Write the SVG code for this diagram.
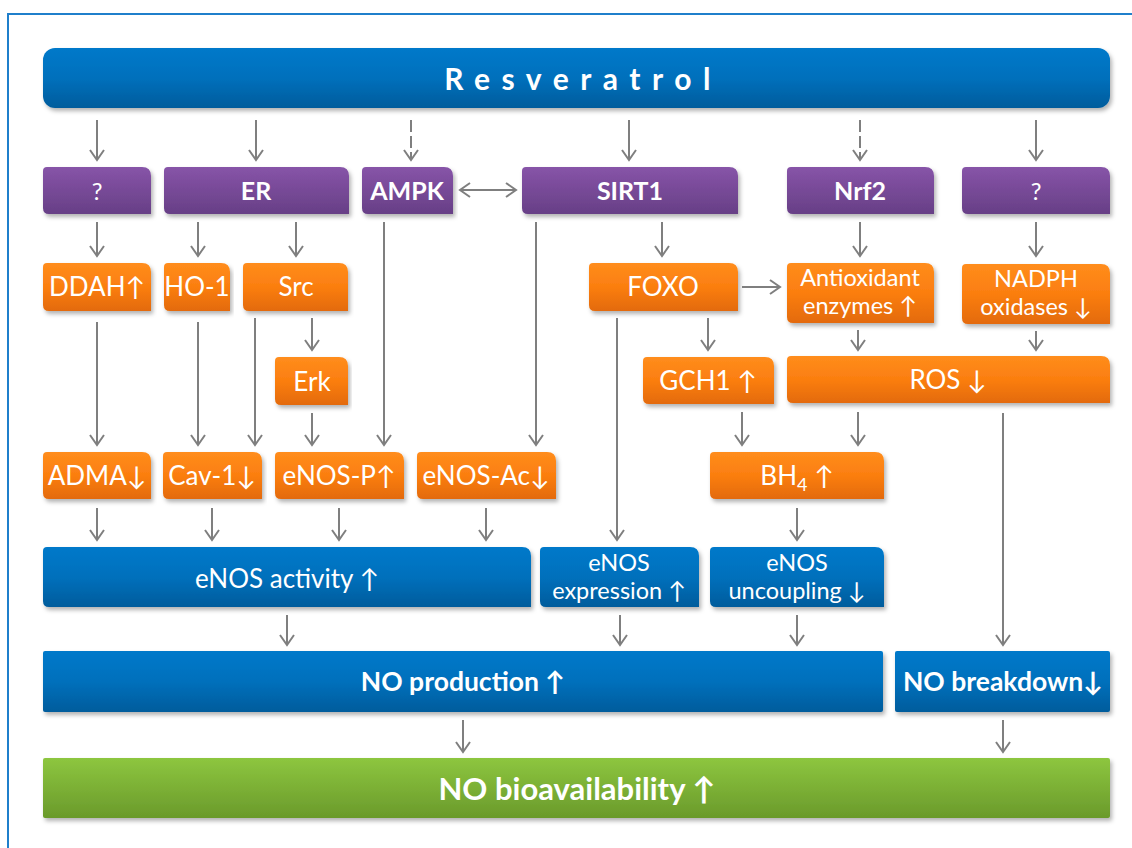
<svg xmlns="http://www.w3.org/2000/svg" width="1132" height="848" viewBox="0 0 1132 848">
<defs>
<linearGradient id="gBlue" x1="0" y1="0" x2="0" y2="1"><stop offset="0" stop-color="#0079CA"/><stop offset="0.5" stop-color="#0070BC"/><stop offset="1" stop-color="#005C9C"/></linearGradient>
<linearGradient id="gPurple" x1="0" y1="0" x2="0" y2="1"><stop offset="0" stop-color="#8754A8"/><stop offset="1" stop-color="#673F86"/></linearGradient>
<linearGradient id="gOrange" x1="0" y1="0" x2="0" y2="1"><stop offset="0" stop-color="#FF8D1C"/><stop offset="0.5" stop-color="#FB7E10"/><stop offset="1" stop-color="#E36A08"/></linearGradient>
<linearGradient id="gGreen" x1="0" y1="0" x2="0" y2="1"><stop offset="0" stop-color="#8DC63F"/><stop offset="1" stop-color="#6A9A2B"/></linearGradient>
<filter id="sh" x="-5%" y="-20%" width="110%" height="150%"><feDropShadow dx="2" dy="3" stdDeviation="2" flood-color="#000" flood-opacity="0.3"/></filter>
<marker id="ah" markerUnits="userSpaceOnUse" viewBox="-12 -10 14 20" refX="0" refY="0" markerWidth="14" markerHeight="20" orient="auto-start-reverse"><path d="M-10,-7 L0,0 L-10,7" fill="none" stroke="#7F7F7F" stroke-width="2"/></marker>
</defs>
<style>
.p{fill:url(#gPurple);filter:url(#sh)}
.o{fill:url(#gOrange);filter:url(#sh)}
.b{fill:url(#gBlue);filter:url(#sh)}
.g{fill:url(#gGreen);filter:url(#sh)}
text{font-family:Lato,"Open Sans","DejaVu Sans",sans-serif;fill:#fff;text-anchor:middle}
.tb{font-weight:bold;font-size:25px}
.tr{font-size:26px}
.t2{font-size:23.5px}
.tn{font-weight:bold;font-size:26.5px}
.c line{stroke:#7F7F7F;stroke-width:2;marker-end:url(#ah)}
.c .d{stroke-dasharray:12 4}
</style>
<rect x="8" y="14" width="1130" height="840" fill="#fff" stroke="#1F7FCB" stroke-width="2"/>

<g id="resveratrol"><rect class="b" x="43" y="48" width="1067" height="60" rx="12"/><text x="583" y="90" style="font-weight:bold;font-size:30px;letter-spacing:11.5px">Resveratrol</text></g>

<g id="q1"><path class="p" d="M47,167 H142 Q151,167 151,176 V214 H49 Q43,214 43,208 V171 Q43,167 47,167 Z"/><text class="tr" x="97" y="200" style="font-size:24px">?</text></g>
<g id="er"><path class="p" d="M168,167 H340 Q349,167 349,176 V214 H170 Q164,214 164,208 V171 Q164,167 168,167 Z"/><text class="tb" x="256" y="200">ER</text></g>
<g id="ampk"><path class="p" d="M366,167 H444 Q453,167 453,176 V214 H368 Q362,214 362,208 V171 Q362,167 366,167 Z"/><text class="tb" x="407" y="200">AMPK</text></g>
<g id="sirt1"><path class="p" d="M526,167 H729 Q738,167 738,176 V214 H528 Q522,214 522,208 V171 Q522,167 526,167 Z"/><text class="tb" x="630" y="200">SIRT1</text></g>
<g id="nrf2"><path class="p" d="M791,167 H925 Q934,167 934,176 V214 H793 Q787,214 787,208 V171 Q787,167 791,167 Z"/><text class="tb" x="860" y="200">Nrf2</text></g>
<g id="q2"><path class="p" d="M966,167 H1101 Q1110,167 1110,176 V214 H968 Q962,214 962,208 V171 Q962,167 966,167 Z"/><text class="tr" x="1036" y="200" style="font-size:24px">?</text></g>

<g id="ddah"><path class="o" d="M47,263 H142 Q151,263 151,272 V311 H49 Q43,311 43,305 V267 Q43,263 47,263 Z"/><text class="tr" x="97" y="296">DDAH↑</text></g>
<g id="ho1"><path class="o" d="M168,263 H221 Q230,263 230,272 V311 H170 Q164,311 164,305 V267 Q164,263 168,263 Z"/><text class="tr" x="197" y="296">HO-1</text></g>
<g id="src"><path class="o" d="M247,263 H339 Q348,263 348,272 V311 H249 Q243,311 243,305 V267 Q243,263 247,263 Z"/><text class="tr" x="296" y="296">Src</text></g>
<g id="foxo"><path class="o" d="M593,263 H729 Q738,263 738,272 V311 H595 Q589,311 589,305 V267 Q589,263 593,263 Z"/><text class="tr" x="663" y="296">FOXO</text></g>
<g id="antiox"><path class="o" d="M791,263 H925 Q934,263 934,272 V323 H793 Q787,323 787,317 V267 Q787,263 791,263 Z"/><text class="t2" x="860" y="286">Antioxidant</text><text class="t2" x="860" y="314">enzymes ↑</text></g>
<g id="nadph"><path class="o" d="M966,264 H1101 Q1110,264 1110,273 V324 H968 Q962,324 962,318 V268 Q962,264 966,264 Z"/><text class="t2" x="1036" y="287">NADPH</text><text class="t2" x="1036" y="315">oxidases ↓</text></g>
<g id="erk"><path class="o" d="M279,357 H339 Q348,357 348,366 V405 H281 Q275,405 275,399 V361 Q275,357 279,357 Z"/><text class="tr" x="312" y="391">Erk</text></g>
<g id="gch1"><path class="o" d="M647,357 H765 Q774,357 774,366 V404 H649 Q643,404 643,398 V361 Q643,357 647,357 Z"/><text class="tr" x="708" y="390">GCH1 ↑</text></g>
<g id="ros"><path class="o" d="M791,356 H1101 Q1110,356 1110,365 V403 H793 Q787,403 787,397 V360 Q787,356 791,356 Z"/><text class="tr" x="948" y="389">ROS ↓</text></g>
<g id="adma"><path class="o" d="M47,452 H142 Q151,452 151,461 V499 H49 Q43,499 43,493 V456 Q43,452 47,452 Z"/><text class="tr" x="97" y="485">ADMA↓</text></g>
<g id="cav1"><path class="o" d="M167,452 H253 Q262,452 262,461 V499 H169 Q163,499 163,493 V456 Q163,452 167,452 Z"/><text class="tr" x="212" y="485">Cav-1↓</text></g>
<g id="enosp"><path class="o" d="M279,452 H395 Q404,452 404,461 V499 H281 Q275,499 275,493 V456 Q275,452 279,452 Z"/><text class="tr" x="339" y="485">eNOS-P↑</text></g>
<g id="enosac"><path class="o" d="M421,452 H547 Q556,452 556,461 V499 H423 Q417,499 417,493 V456 Q417,452 421,452 Z"/><text class="tr" x="486" y="485">eNOS-Ac↓</text></g>
<g id="bh4"><path class="o" d="M714,452 H875 Q884,452 884,461 V499 H716 Q710,499 710,493 V456 Q710,452 714,452 Z"/><text class="tr" x="797" y="485">BH<tspan dy="6" font-size="18">4</tspan><tspan dy="-6"> ↑</tspan></text></g>

<g id="enosactivity"><path class="b" d="M47,547 H522 Q531,547 531,556 V607 H49 Q43,607 43,601 V551 Q43,547 47,547 Z"/><text class="tr" x="287" y="588">eNOS activity ↑</text></g>
<g id="enosexpr"><path class="b" d="M544,547 H690 Q699,547 699,556 V607 H546 Q540,607 540,601 V551 Q540,547 544,547 Z"/><text class="t2" x="619" y="571">eNOS</text><text class="t2" x="619" y="599">expression ↑</text></g>
<g id="enosuncoup"><path class="b" d="M714,547 H875 Q884,547 884,556 V607 H716 Q710,607 710,601 V551 Q710,547 714,547 Z"/><text class="t2" x="797" y="571">eNOS</text><text class="t2" x="797" y="599">uncoupling ↓</text></g>
<g id="noprod"><rect class="b" x="43" y="651" width="840" height="61" rx="2"/><text class="tn" x="463" y="691">NO production ↑</text></g>
<g id="nobreak"><rect class="b" x="895" y="651" width="215" height="61" rx="2"/><text class="tn" x="1003" y="691">NO breakdown↓</text></g>
<g id="nobio"><rect class="g" x="43" y="758" width="1067" height="60" rx="2"/><text x="577" y="800" style="font-weight:bold;font-size:31px">NO bioavailability ↑</text></g>

<g id="connectors" class="c">
<line x1="97" y1="120" x2="97" y2="160"/>
<line x1="256" y1="120" x2="256" y2="160"/>
<line class="d" x1="411" y1="120" x2="411" y2="160"/>
<line x1="629" y1="120" x2="629" y2="160"/>
<line class="d" x1="860" y1="120" x2="860" y2="160"/>
<line x1="1036" y1="120" x2="1036" y2="160"/>
<line x1="460" y1="190" x2="516" y2="190" style="marker-start:url(#ah)"/>
<line x1="97" y1="222" x2="97" y2="256"/>
<line x1="198" y1="222" x2="198" y2="256"/>
<line x1="296" y1="222" x2="296" y2="256"/>
<line x1="662" y1="222" x2="662" y2="256"/>
<line x1="860" y1="222" x2="860" y2="256"/>
<line x1="1036" y1="222" x2="1036" y2="256"/>
<line x1="384" y1="222" x2="384" y2="445"/>
<line x1="536" y1="222" x2="536" y2="445"/>
<line x1="97" y1="322" x2="97" y2="445"/>
<line x1="198" y1="322" x2="198" y2="445"/>
<line x1="255" y1="318" x2="255" y2="445"/>
<line x1="312" y1="318" x2="312" y2="350"/>
<line x1="312" y1="413" x2="312" y2="445"/>
<line x1="742" y1="287" x2="780" y2="287"/>
<line x1="617" y1="318" x2="617" y2="540"/>
<line x1="708" y1="318" x2="708" y2="350"/>
<line x1="858" y1="330" x2="858" y2="350"/>
<line x1="1036" y1="331" x2="1036" y2="350"/>
<line x1="742" y1="412" x2="742" y2="445"/>
<line x1="858" y1="412" x2="858" y2="445"/>
<line x1="1003" y1="413" x2="1003" y2="645"/>
<line x1="97" y1="508" x2="97" y2="540"/>
<line x1="212" y1="508" x2="212" y2="540"/>
<line x1="339" y1="508" x2="339" y2="540"/>
<line x1="486" y1="508" x2="486" y2="540"/>
<line x1="797" y1="508" x2="797" y2="540"/>
<line x1="287" y1="615" x2="287" y2="645"/>
<line x1="620" y1="615" x2="620" y2="645"/>
<line x1="797" y1="615" x2="797" y2="645"/>
<line x1="463" y1="720" x2="463" y2="752"/>
<line x1="1003" y1="720" x2="1003" y2="752"/>
</g>
</svg>
